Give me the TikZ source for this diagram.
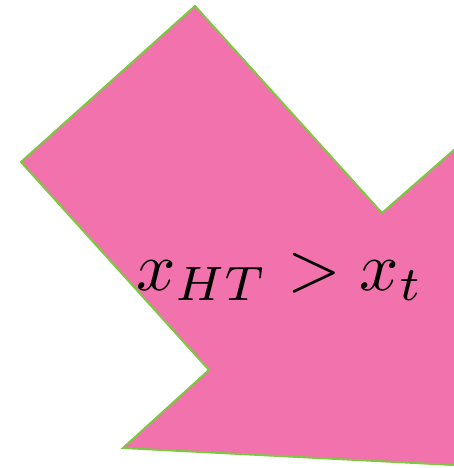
\documentclass[tikz,border=0pt]{standalone}
\definecolor{arrowpink}{RGB}{241,114,172}
\definecolor{arrowgreen}{RGB}{124,200,64}
\begin{document}
\begin{tikzpicture}[x=1pt,y=1pt,
  bigarrow/.style={fill=arrowpink,draw=arrowgreen,line width=2pt,line join=miter},
  label/.style={inner sep=0pt,scale=6.9}]
\useasboundingbox (0,0) rectangle (454,468);
\clip (0,0) rectangle (454,468);
\draw[bigarrow] (195,462) -- (21,306) -- (209,98) -- (123,20) -- (520,-0.4) -- (520,376) -- (382,255) -- cycle;
\node[label] (cond) at (280,191) {$x_{HT} > x_t$};
\end{tikzpicture}
\end{document}
